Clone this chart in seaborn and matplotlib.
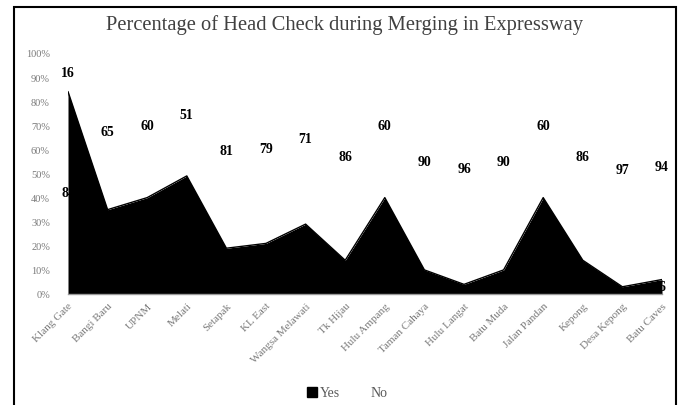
import matplotlib
matplotlib.use("Agg")
import matplotlib.pyplot as plt
import seaborn as sns
import numpy as np
from matplotlib.patches import Rectangle
from matplotlib.lines import Line2D

locations = ["Klang Gate", "Bangi Baru", "UPNM", "Melati", "Setapak", "KL East",
             "Wangsa Melawati", "Tk Hijau", "Hulu Ampang", "Taman Cahaya",
             "Hulu Langat", "Batu Muda", "Jalan Pandan", "Kepong",
             "Desa Kepong", "Batu Caves"]
yes_pct = [84, 35, 40, 49, 19, 21, 29, 14, 40, 10, 4, 10, 40, 14, 3, 6]
no_pct = [16, 65, 60, 51, 81, 79, 71, 86, 60, 90, 96, 90, 60, 86, 97, 94]
y_ticks = [0, 10, 20, 30, 40, 50, 60, 70, 80, 90, 100]

sns.set_theme(style="white")
plt.rcParams["font.family"] = ["Liberation Serif", "DejaVu Serif"]

fig = plt.figure(figsize=(6.78, 4.06), dpi=100)
ax = fig.add_axes([68 / 678, 1 - 295 / 406, (662 - 68) / 678, (295 - 54) / 406])

x = np.arange(len(locations))
yes = np.array(yes_pct, dtype=float)
no = np.array(no_pct, dtype=float)

# stacked areas: Yes at the bottom (black), No on top (white)
ax.fill_between(x, 0, yes, color="black", linewidth=0)
ax.fill_between(x, yes, yes + no, color="white", linewidth=0)
sns.lineplot(x=x, y=yes, color="black", linewidth=1, ax=ax, legend=False)

# value labels at the middle of each band
for xi, y1, n1 in zip(x, yes, no):
    ax.text(xi, y1 / 2, f"{int(y1)}", ha="center", va="center",
            fontsize=10, fontweight="bold", color="black", zorder=1)
    ax.text(xi, y1 + n1 / 2, f"{int(n1)}", ha="center", va="center",
            fontsize=10, fontweight="bold", color="black", zorder=5)
# keep the Yes labels under the filled area
for coll in ax.collections:
    coll.set_zorder(2)

ax.set_xlim(0, len(locations) - 1)
ax.set_ylim(0, 100)
ax.set_yticks(y_ticks)
ax.set_yticklabels([f"{v}%" for v in y_ticks], fontsize=7.5, color="#7a7a7a")
ax.set_xticks(x)
ax.set_xticklabels(locations, rotation=45, ha="right", rotation_mode="anchor",
                   fontsize=8, color="#7a7a7a")
ax.tick_params(axis="y", length=0, pad=13)
ax.tick_params(axis="x", length=0, pad=5)
for side in ["top", "right", "left"]:
    ax.spines[side].set_visible(False)
ax.spines["bottom"].set_color("#9a9a9a")
ax.spines["bottom"].set_linewidth(1)
ax.set_xlabel("")
ax.set_ylabel("")
ax.grid(False)
ax.set_facecolor("white")

fig.text(345 / 678, 1 - 25 / 406,
         "Percentage of Head Check during Merging in Expressway",
         ha="center", va="center", fontsize=14.8, color="#404040")

handles = [
    Line2D([], [], marker="s", linestyle="none", markersize=7,
           markerfacecolor="black", markeredgecolor="black"),
    Line2D([], [], marker="s", linestyle="none", markersize=7,
           markerfacecolor="white", markeredgecolor="white"),
]
fig.legend(handles, ["Yes", "No"], loc="center", ncol=2,
           bbox_to_anchor=(347 / 678, 1 - 394 / 406), frameon=False,
           fontsize=10, labelcolor="#595959", handletextpad=0.2,
           columnspacing=1.2, handlelength=0.8)

# chart border
fig.patches.append(Rectangle((14 / 678, 1 - 410 / 406), (676 - 14) / 678,
                             (410 - 8) / 406, transform=fig.transFigure,
                             fill=False, edgecolor="black", linewidth=1.5))

fig.savefig("out.png", dpi=100, facecolor="white")
